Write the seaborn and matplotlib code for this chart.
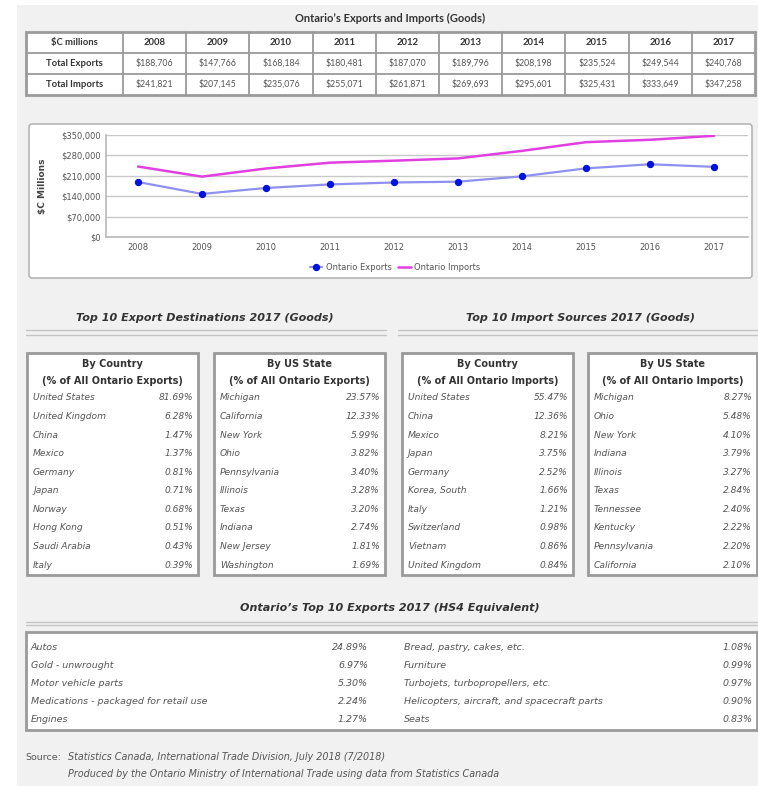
import numpy as np
import pandas as pd
import matplotlib
matplotlib.use("Agg")
import matplotlib.pyplot as plt
import seaborn as sns
from matplotlib.patches import Rectangle, FancyBboxPatch

# data
years = [2008, 2009, 2010, 2011, 2012, 2013, 2014, 2015, 2016, 2017]
exports = [188706, 147766, 168184, 180481, 187070, 189796, 208198, 235524, 249544, 240768]
imports = [241821, 207145, 235076, 255071, 261871, 269693, 295601, 325431, 333649, 347258]

exp_countries = ["United States", "United Kingdom", "China", "Mexico", "Germany",
                 "Japan", "Norway", "Hong Kong", "Saudi Arabia", "Italy"]
exp_country_pct = [81.69, 6.28, 1.47, 1.37, 0.81, 0.71, 0.68, 0.51, 0.43, 0.39]
exp_states = ["Michigan", "California", "New York", "Ohio", "Pennsylvania",
              "Illinois", "Texas", "Indiana", "New Jersey", "Washington"]
exp_state_pct = [23.57, 12.33, 5.99, 3.82, 3.40, 3.28, 3.20, 2.74, 1.81, 1.69]
imp_countries = ["United States", "China", "Mexico", "Japan", "Germany",
                 "Korea, South", "Italy", "Switzerland", "Vietnam", "United Kingdom"]
imp_country_pct = [55.47, 12.36, 8.21, 3.75, 2.52, 1.66, 1.21, 0.98, 0.86, 0.84]
imp_states = ["Michigan", "Ohio", "New York", "Indiana", "Illinois",
              "Texas", "Tennessee", "Kentucky", "Pennsylvania", "California"]
imp_state_pct = [8.27, 5.48, 4.10, 3.79, 3.27, 2.84, 2.40, 2.22, 2.20, 2.10]
hs4_products = ["Autos", "Gold - unwrought", "Motor vehicle parts",
                "Medications - packaged for retail use", "Engines",
                "Bread, pastry, cakes, etc.", "Furniture", "Turbojets, turbopropellers, etc.",
                "Helicopters, aircraft, and spacecraft parts", "Seats"]
hs4_pct = [24.89, 6.97, 5.30, 2.24, 1.27, 1.08, 0.99, 0.97, 0.90, 0.83]

W, H = 758, 786
BG = "#f1f1f1"
TXT = "#333333"
GRAY_TXT = "#555555"
BORDER = "#9a9a9a"

sns.set_theme(style="white")
plt.rcParams["font.family"] = ["DejaVu Sans"]

fig = plt.figure(figsize=(W / 100, H / 100), dpi=100)
fig.patch.set_facecolor("white")

# pixel canvas covering the whole figure
cv = fig.add_axes([0, 0, 1, 1])
cv.set_xlim(0, W)
cv.set_ylim(H, 0)
cv.axis("off")
cv.add_patch(Rectangle((17, 5), W - 17, H - 5, facecolor=BG, edgecolor="none", zorder=0))

# ---- top table ----
cv.text(390, 18, "Ontario\u2019s Exports and Imports (Goods)", ha="center", va="center",
        fontsize=8, fontweight="bold", family="Lato", color=TXT)
x_edges = [26, 123] + [123 + 63.2 * (i + 1) for i in range(10)]
y_edges = [32, 53, 74, 95]
cv.add_patch(Rectangle((26, 32), x_edges[-1] - 26, 63, facecolor="white",
                       edgecolor=BORDER, lw=2, zorder=1))
for xe in x_edges[1:-1]:
    cv.plot([xe, xe], [32, 95], color=BORDER, lw=1.3, zorder=2)
for ye in y_edges[1:-1]:
    cv.plot([26, x_edges[-1]], [ye, ye], color=BORDER, lw=1.3, zorder=2)
row_heads = ["$C millions", "Total Exports", "Total Imports"]
for r, lab in enumerate(row_heads):
    yc = (y_edges[r] + y_edges[r + 1]) / 2
    cv.text((x_edges[0] + x_edges[1]) / 2, yc, lab, ha="center", va="center",
            fontsize=6.8, fontweight="bold", family="Lato", color=TXT, zorder=3)
for i, yr in enumerate(years):
    xc = (x_edges[i + 1] + x_edges[i + 2]) / 2
    cv.text(xc, (y_edges[0] + y_edges[1]) / 2, str(yr), ha="center", va="center",
            fontsize=6.8, fontweight="bold", family="Lato", color=TXT, zorder=3)
    cv.text(xc, (y_edges[1] + y_edges[2]) / 2, f"${exports[i]:,}", ha="center", va="center",
            fontsize=6.3, family="Lato", color=GRAY_TXT, zorder=3)
    cv.text(xc, (y_edges[2] + y_edges[3]) / 2, f"${imports[i]:,}", ha="center", va="center",
            fontsize=6.3, family="Lato", color=GRAY_TXT, zorder=3)

# ---- line chart ----
cv.add_patch(FancyBboxPatch((29, 124), 723, 154, boxstyle="round,pad=0,rounding_size=3",
                            facecolor="white", edgecolor="#b5b5b5", lw=1.2, zorder=1))
ax = fig.add_axes([106 / W, 1 - 237 / H, (748 - 106) / W, (237 - 135) / H])
ax.set_facecolor("white")
df = pd.DataFrame({"year": years, "Ontario Exports": exports, "Ontario Imports": imports})
sns.lineplot(data=df, x="year", y="Ontario Imports", ax=ax, color="#e040e0", lw=1.8,
             label="Ontario Imports", zorder=3)
sns.lineplot(data=df, x="year", y="Ontario Exports", ax=ax, color="#9090f0", lw=1.6,
             marker="o", markersize=4.5, markerfacecolor="#0010e0", markeredgecolor="#0010e0",
             label="Ontario Exports", zorder=4)
ax.set_xlim(2007.5, 2017.53)
ax.set_ylim(0, 350000)
ax.set_yticks(range(0, 350001, 70000))
ax.set_yticklabels([f"${v:,}" for v in range(0, 350001, 70000)])
ax.set_xticks(years)
ax.tick_params(axis="both", labelsize=6, colors="#555555", length=0, pad=4)
ax.yaxis.grid(True, color="#c8c8c8", lw=1)
ax.xaxis.grid(False)
for s in ["top", "right"]:
    ax.spines[s].set_visible(False)
ax.spines["left"].set_color("#bbbbbb")
ax.spines["bottom"].set_color("#bbbbbb")
ax.set_xlabel("")
ax.set_ylabel("$C Millions", fontsize=6.5, fontweight="bold", color="#444444", labelpad=10)
handles, labels = ax.get_legend_handles_labels()
order = [1, 0]
ax.legend([handles[i] for i in order], [labels[i] for i in order], loc="center",
          bbox_to_anchor=(0.45, -0.3), ncol=2, frameon=False, fontsize=6,
          handlelength=1.5, columnspacing=0.8, handletextpad=0.4, labelcolor="#555555")

# ---- section titles ----
def section_title(xc, y, x0, x1, text, y_lines):
    cv.text(xc, y, text, ha="center", va="center", fontsize=8, fontweight="bold",
            style="italic", color=TXT)
    for yl in y_lines:
        cv.plot([x0, x1], [yl, yl], color="#c4c4c4", lw=1.0)

section_title(205, 318, 26, 386, "Top 10 Export Destinations 2017 (Goods)", [330, 335])
section_title(580, 318, 398, 757, "Top 10 Import Sources 2017 (Goods)", [330, 335])

# ---- four list boxes ----
def list_box(x0, x1, head1, head2, names, vals):
    cv.add_patch(Rectangle((x0, 353), x1 - x0, 222, facecolor="white",
                           edgecolor=BORDER, lw=2, zorder=1))
    xc = (x0 + x1) / 2
    cv.text(xc, 364, head1, ha="center", va="center", fontsize=7.0,
            fontweight="bold", color=TXT, zorder=3)
    cv.text(xc, 381, head2, ha="center", va="center", fontsize=7.0,
            fontweight="bold", color=TXT, zorder=3)
    for i, (n, v) in enumerate(zip(names, vals)):
        yy = 398 + i * 18.56
        cv.text(x0 + 6, yy, n, ha="left", va="center", fontsize=6.6,
                style="italic", color=GRAY_TXT, zorder=3)
        cv.text(x1 - 5, yy, f"{v:.2f}%", ha="right", va="center", fontsize=6.6,
                style="italic", color=GRAY_TXT, zorder=3)

list_box(27, 198, "By Country", "(% of All Ontario Exports)", exp_countries, exp_country_pct)
list_box(214, 385, "By US State", "(% of All Ontario Exports)", exp_states, exp_state_pct)
list_box(402, 573, "By Country", "(% of All Ontario Imports)", imp_countries, imp_country_pct)
list_box(588, 757, "By US State", "(% of All Ontario Imports)", imp_states, imp_state_pct)

# ---- HS4 exports ----
cv.text(390, 608, "Ontario\u2019s Top 10 Exports 2017 (HS4 Equivalent)", ha="center",
        va="center", fontsize=8, fontweight="bold", style="italic", color=TXT)
cv.plot([26, 757], [622, 622], color="#c4c4c4", lw=1.0)
cv.plot([26, 757], [625, 625], color="#c4c4c4", lw=1.0)
cv.add_patch(Rectangle((26, 632), 731, 98, facecolor="white", edgecolor=BORDER,
                       lw=2, zorder=1))
for i, (n, v) in enumerate(zip(hs4_products, hs4_pct)):
    col, row = divmod(i, 5)
    yy = 647 + row * 18
    lx, vx = (31, 368) if col == 0 else (404, 753)
    cv.text(lx, yy, n, ha="left", va="center", fontsize=6.8, style="italic",
            color=GRAY_TXT, zorder=3)
    cv.text(vx, yy, f"{v:.2f}%", ha="right", va="center", fontsize=6.8,
            style="italic", color=GRAY_TXT, zorder=3)

# ---- source ----
cv.text(25, 757, "Source:", ha="left", va="center", fontsize=6.8, color=GRAY_TXT)
cv.text(68, 757, "Statistics Canada, International Trade Division, July 2018 (7/2018)",
        ha="left", va="center", fontsize=6.9, style="italic", color=GRAY_TXT)
cv.text(68, 774, "Produced by the Ontario Ministry of International Trade using data from Statistics Canada",
        ha="left", va="center", fontsize=6.9, style="italic", color=GRAY_TXT)

fig.savefig("out.png", dpi=100, facecolor=fig.get_facecolor())
